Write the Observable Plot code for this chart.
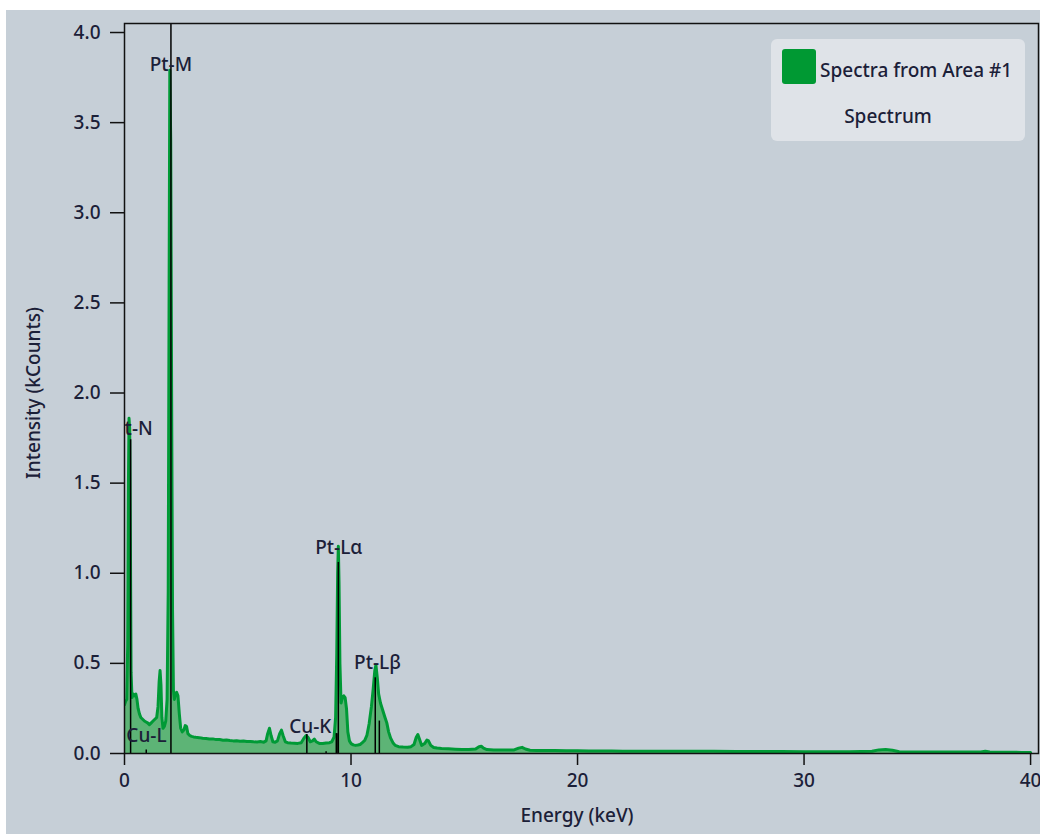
<!DOCTYPE html>
<html><head><meta charset="utf-8">
<script src="https://cdn.jsdelivr.net/npm/d3@7"></script>
<script src="https://cdn.jsdelivr.net/npm/@observablehq/plot@0.6"></script>
<style>
body{margin:0;background:#fff;font-family:"Noto Sans",sans-serif;color:#1b2038;}
#panel{position:absolute;left:6px;top:10px;width:1034px;height:824px;background:#c6cfd7;overflow:hidden}
#chart{position:absolute;left:0;top:0}
.title{position:absolute;font-size:19px;font-weight:500;white-space:nowrap;color:#1b2038}
#ytitle{left:27px;top:383px;transform:translate(-50%,-50%) rotate(-90deg)}
#xtitle{left:571px;top:805px;transform:translate(-50%,-50%)}
#legend{position:absolute;left:765px;top:29px;width:254px;height:102px;background:#dfe3e8;border-radius:6px}
#swatch{position:absolute;left:11px;top:10px;width:34px;height:35px;background:#009933;border-radius:3px}
#l1{position:absolute;left:49px;top:31px;transform:translateY(-50%);font-size:19px;font-weight:500;white-space:nowrap}
#l2{position:absolute;left:117px;top:77px;transform:translate(-50%,-50%);font-size:19px;font-weight:500;white-space:nowrap}
</style></head><body>
<div id="panel">
  <div id="chart"></div>
  <div id="ytitle" class="title">Intensity (kCounts)</div>
  <div id="xtitle" class="title">Energy (keV)</div>
  <div id="legend"><div id="swatch"></div><div id="l1">Spectra from Area #1</div><div id="l2">Spectrum</div></div>
</div>
<script>
// Spectrum (energy in keV, intensity in kCounts)
const energy = [0.00,0.05,0.10,0.14,0.17,0.20,0.23,0.26,0.29,0.33,0.38,0.44,0.50,0.55,0.60,0.66,0.72,0.80,0.88,0.95,
1.02,1.10,1.18,1.26,1.34,1.42,1.48,1.53,1.57,1.61,1.65,1.70,1.76,1.82,1.88,1.93,1.97,2.00,2.04,2.08,
2.12,2.16,2.20,2.25,2.30,2.36,2.42,2.48,2.55,2.62,2.68,2.74,2.80,2.88,2.96,3.05,3.15,3.30,3.45,3.60,
3.75,3.90,4.05,4.20,4.35,4.50,4.65,4.80,4.95,5.10,5.25,5.40,5.55,5.70,5.85,6.00,6.15,6.25,6.32,6.40,
6.47,6.55,6.65,6.75,6.85,6.93,7.00,7.10,7.20,7.35,7.50,7.65,7.80,7.92,8.02,8.10,8.20,8.30,8.38,8.46,
8.60,8.75,8.90,9.05,9.15,9.25,9.32,9.37,9.41,9.44,9.47,9.51,9.56,9.62,9.68,9.74,9.80,9.86,9.93,10.0,
10.1,10.2,10.3,10.4,10.5,10.6,10.7,10.8,10.9,10.98,11.05,11.10,11.16,11.22,11.30,11.40,11.50,11.58,11.66,11.75,
11.85,11.95,12.1,12.3,12.5,12.65,12.78,12.88,12.95,13.02,13.12,13.25,13.35,13.42,13.52,13.65,13.8,14.0,14.3,14.6,
14.9,15.2,15.5,15.65,15.75,15.85,16.0,16.3,16.6,16.9,17.2,17.4,17.55,17.7,17.9,18.2,18.6,19.0,19.5,20.0,
20.5,21,21.5,22,22.5,23,24,25,26,27,28,29,30,31,32,33,33.3,33.6,33.9,34.2,
35,36,37,37.8,38.0,38.2,39,39.6,40.0];
const counts = [0.27,0.29,0.30,0.60,1.45,1.86,1.80,1.20,0.45,0.31,0.33,0.32,0.33,0.30,0.25,0.22,0.20,0.19,0.18,0.175,
0.17,0.16,0.17,0.18,0.19,0.20,0.26,0.40,0.46,0.38,0.20,0.14,0.15,0.18,0.30,0.90,2.60,3.79,3.40,2.00,
0.80,0.35,0.30,0.33,0.34,0.32,0.22,0.14,0.12,0.13,0.155,0.15,0.11,0.10,0.095,0.092,0.09,0.088,0.085,0.083,
0.080,0.081,0.077,0.078,0.074,0.075,0.072,0.070,0.071,0.068,0.069,0.066,0.067,0.065,0.064,0.066,0.063,0.070,0.110,0.140,
0.100,0.065,0.062,0.070,0.110,0.130,0.100,0.065,0.060,0.058,0.057,0.056,0.060,0.085,0.100,0.090,0.065,0.070,0.080,0.065,
0.056,0.055,0.058,0.060,0.065,0.090,0.200,0.550,1.000,1.150,0.950,0.500,0.280,0.310,0.320,0.310,0.250,0.120,0.070,0.055,
0.048,0.045,0.047,0.050,0.060,0.072,0.100,0.165,0.260,0.360,0.460,0.490,0.420,0.330,0.280,0.240,0.200,0.170,0.120,0.085,
0.060,0.045,0.038,0.036,0.035,0.038,0.050,0.090,0.105,0.080,0.045,0.055,0.075,0.070,0.045,0.033,0.030,0.028,0.026,0.024,
0.022,0.022,0.025,0.038,0.040,0.030,0.022,0.020,0.020,0.019,0.020,0.030,0.034,0.025,0.018,0.017,0.016,0.016,0.015,0.015,
0.014,0.014,0.014,0.013,0.013,0.013,0.012,0.012,0.012,0.011,0.011,0.011,0.010,0.010,0.010,0.012,0.020,0.022,0.018,0.010,
0.009,0.009,0.008,0.009,0.013,0.009,0.007,0.006,0.005];

// Element marker lines
const markerEnergy = [0.27, 0.96, 2.05, 8.05, 8.90, 9.35, 9.38, 9.44, 11.07, 11.25];
const markerTop    = [1.74, 0.02, 4.05, 0.105, 0.01, 0.11, 0.11, 1.06, 0.42, 0.18];

// Marker labels
const labelNames  = ["Pt-N", "Cu-L", "Pt-M", "Cu-K", "Pt-Lα", "Pt-Lβ"];
const labelEnergy = [0.37, 0.97, 2.05, 8.2, 9.46, 11.17];
const labelValue  = [1.80, 0.10, 3.82, 0.145, 1.14, 0.50];

const xTicks = [0, 10, 20, 30, 40];
const yTicks = [0, 0.5, 1.0, 1.5, 2.0, 2.5, 3.0, 3.5, 4.0];

const spec = energy.map((e, i) => ({e, c: counts[i]}));
const markers = markerEnergy.map((e, i) => ({e, top: markerTop[i]}));
const labels = labelNames.map((name, i) => ({name, e: labelEnergy[i], v: labelValue[i]}));

const chart = Plot.plot({
  width: 1034, height: 824,
  marginLeft: 118, marginRight: 2, marginTop: 13, marginBottom: 81,
  style: {background: "transparent", fontFamily: "Noto Sans", fontSize: "19px", fontWeight: 500, color: "#111", overflow: "visible"},
  x: {domain: [0, 40.35]},
  y: {domain: [0, 4.05]},
  marks: [
    Plot.areaY(spec, {x: "e", y: "c", fill: "#5db476", clip: true}),
    Plot.lineY(spec, {x: "e", y: "c", stroke: "#009a36", strokeWidth: 3, clip: true}),
    Plot.ruleX(markers, {x: "e", y1: 0, y2: "top", stroke: "#000", strokeWidth: 1.5}),
    Plot.text(labels, {x: "e", y: "v", text: "name", fill: "#1b2038", fontSize: 19, fontWeight: 500, clip: true}),
    Plot.frame({stroke: "#111", strokeWidth: 1.5}),
    Plot.axisY({ticks: yTicks, tickSize: 14, tickPadding: 10, tickFormat: d3.format(".1f"), label: null, strokeWidth: 1.5, fill: "#1b2038"}),
    Plot.axisX({ticks: xTicks, tickSize: 12, tickPadding: 8, label: null, strokeWidth: 1.5, fill: "#1b2038"})
  ]
});
document.getElementById("chart").appendChild(chart);
</script>
</body></html>
